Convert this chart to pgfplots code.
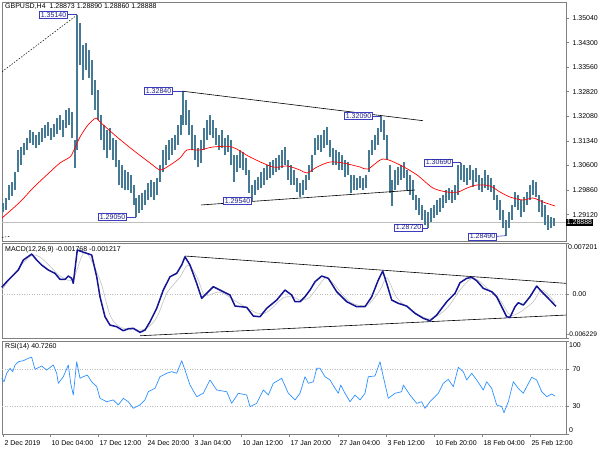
\documentclass[border=0pt]{standalone}
\usepackage{fontspec}
\setmainfont{Liberation Sans}
\usepackage{pgfplots}
\pgfplotsset{compat=1.18}
\definecolor{candle}{RGB}{70,122,148}
\definecolor{macdblue}{RGB}{20,20,150}
\definecolor{siggray}{RGB}{195,195,195}
\definecolor{rsiblue}{RGB}{45,145,255}
\definecolor{lblblue}{RGB}{60,60,190}
\definecolor{lbltext}{RGB}{30,30,140}
\definecolor{framegray}{RGB}{128,128,128}
\definecolor{wm}{RGB}{200,200,200}
\definecolor{levelgray}{RGB}{190,190,190}
\pgfplotsset{
  panel/.style={scale only axis, width=564pt, xmin=2, xmax=566, clip=false,
    scaled x ticks=false, scaled y ticks=false,
    axis line style={framegray, line width=0.8pt},
    tick style={framegray, line width=0.6pt}, tick align=outside, major tick length=3pt,
    ytick pos=right, yticklabel pos=right, xtick pos=bottom,
    ticklabel style={font=\fontsize{7}{8}\selectfont, text=black},
    axis background/.style={fill=white}},
}
\tikzset{lbl/.style={draw=lblblue, fill=white, text=lbltext, line width=0.6pt, inner xsep=1.5pt, inner ysep=1pt, font=\fontsize{7}{8}\selectfont},
  lblc/.style={lblblue, line width=0.6pt}}
\begin{document}
\begin{tikzpicture}
\useasboundingbox (0,0) rectangle (600pt,450pt);
\node[anchor=center, text=wm, font=\fontsize{17.6}{20}\selectfont] at (381pt,385pt) {ActionForex.com};
% ---------------- main price panel
\begin{axis}[panel, at={(2pt,448pt)}, anchor=north west, height=239pt,
  ymin=1.28329, ymax=1.35523, xtick=\empty,
  ytick={1.3504,1.343,1.3356,1.3282,1.3208,1.3134,1.306,1.2986,1.2912},
  yticklabels={1.35040,1.34300,1.33560,1.32820,1.32080,1.31340,1.30600,1.29860,1.29120}]
\addplot[levelgray, line width=0.6pt] coordinates {(2,1.28888) (566,1.28888)};
\addplot[black, line width=0.5pt, dash pattern=on 1.5pt off 1.5pt] coordinates {(2,1.33425) (77,1.35132)};
\addplot[black, line width=0.5pt, dash pattern=on 1.5pt off 1.5pt] coordinates {(2,1.28440) (10,1.28470)};
\addplot[only marks, mark=*, mark size=0pt, mark options={draw=none, fill=none},
  error bars/.cd, y dir=plus, y explicit, error mark=none,
  error bar style={line width=1.45pt, candle}]
  table[x=x, y=lo, y error expr=\thisrow{hi}-\thisrow{lo}] {
x lo hi
3 1.29202 1.29473
6 1.29262 1.29623
9 1.29563 1.30015
12 1.29683 1.30105
15 1.29864 1.30406
18 1.30406 1.31068
21 1.30617 1.31158
24 1.30918 1.31279
27 1.31068 1.31429
30 1.31279 1.31670
33 1.31219 1.31610
36 1.31128 1.31520
39 1.31219 1.31610
42 1.31309 1.31730
45 1.31429 1.31821
48 1.31490 1.31911
51 1.31369 1.31730
54 1.31459 1.31851
57 1.31550 1.32031
60 1.31670 1.32122
63 1.31459 1.31971
66 1.31730 1.32272
69 1.31821 1.32332
72 1.31429 1.32212
75 1.30526 1.31369
77 1.31068 1.35140
80 1.33627 1.34891
83 1.33175 1.34229
86 1.33476 1.34289
89 1.33235 1.34078
92 1.32724 1.33777
95 1.32272 1.33175
98 1.31971 1.32874
101 1.31369 1.32122
104 1.31068 1.31821
107 1.30827 1.31670
110 1.31068 1.31730
113 1.30767 1.31429
116 1.30556 1.31369
119 1.30015 1.30767
122 1.29924 1.30617
125 1.29864 1.30466
128 1.29864 1.30406
131 1.29774 1.30316
134 1.29413 1.30015
136 1.29050 1.29623
139 1.29172 1.29714
142 1.29262 1.29774
145 1.29413 1.29864
148 1.29563 1.30075
151 1.29653 1.30165
154 1.29563 1.30105
157 1.29714 1.30225
160 1.30105 1.30617
163 1.30406 1.31068
166 1.30617 1.31219
169 1.30767 1.31369
172 1.30918 1.31429
175 1.31068 1.31520
178 1.31219 1.31821
181 1.31520 1.32122
183 1.31821 1.32840
186 1.31821 1.32573
189 1.31520 1.32272
192 1.31068 1.31821
195 1.30767 1.31520
198 1.30556 1.31128
201 1.30677 1.31369
204 1.31068 1.31730
207 1.31369 1.31971
210 1.31520 1.32122
213 1.31429 1.31971
216 1.31219 1.31730
219 1.31068 1.31520
222 1.31128 1.31670
225 1.30918 1.31429
228 1.31008 1.31520
231 1.30617 1.31369
234 1.30105 1.30918
237 1.30406 1.30918
240 1.30526 1.31068
243 1.30466 1.31008
246 1.30316 1.30827
249 1.29774 1.30466
252 1.29540 1.30015
255 1.29714 1.30165
258 1.29864 1.30255
261 1.29924 1.30406
264 1.30015 1.30526
267 1.30165 1.30617
270 1.30225 1.30707
273 1.30316 1.30767
276 1.30406 1.30827
279 1.30466 1.30918
282 1.30526 1.31068
285 1.30617 1.31158
288 1.30165 1.30767
291 1.30015 1.30617
294 1.30015 1.30466
297 1.29804 1.30225
300 1.29653 1.30075
303 1.29714 1.30165
306 1.29864 1.30316
309 1.30165 1.30617
312 1.30406 1.30918
315 1.30918 1.31429
318 1.31068 1.31520
321 1.31008 1.31520
324 1.31128 1.31670
327 1.31219 1.31760
330 1.30857 1.31369
333 1.30617 1.31128
336 1.30617 1.31068
339 1.30466 1.31008
342 1.30466 1.30918
345 1.30255 1.30767
348 1.30316 1.30707
351 1.29774 1.30316
354 1.29864 1.30316
357 1.29864 1.30225
360 1.29924 1.30285
363 1.29864 1.30225
366 1.29924 1.30316
369 1.30406 1.31068
372 1.30918 1.31369
375 1.31068 1.31520
378 1.31219 1.31730
381 1.31610 1.32090
384 1.31369 1.31971
387 1.30767 1.31520
390 1.29774 1.30617
392 1.29382 1.30165
395 1.29864 1.30466
398 1.30015 1.30556
401 1.30165 1.30617
404 1.30225 1.30707
407 1.29864 1.30466
410 1.29714 1.30316
413 1.29563 1.30165
416 1.29262 1.29714
419 1.29112 1.29623
422 1.28961 1.29413
425 1.28811 1.29262
428 1.28720 1.29202
431 1.28901 1.29322
434 1.29021 1.29413
437 1.29112 1.29563
440 1.29202 1.29623
443 1.29322 1.29714
446 1.29473 1.29864
449 1.29563 1.29924
452 1.29473 1.29864
455 1.29563 1.30015
458 1.29714 1.30617
461 1.30165 1.30690
464 1.30105 1.30617
467 1.30015 1.30526
470 1.30165 1.30617
473 1.29954 1.30466
476 1.30105 1.30526
479 1.29864 1.30316
482 1.29804 1.30225
485 1.29924 1.30466
488 1.29864 1.30316
491 1.29804 1.30225
494 1.29563 1.30015
497 1.29262 1.29714
500 1.28961 1.29563
503 1.28720 1.29262
506 1.28490 1.28961
509 1.28720 1.29202
512 1.28961 1.29413
515 1.29352 1.29804
518 1.29262 1.29714
521 1.29051 1.29563
524 1.29202 1.29653
527 1.29413 1.29804
530 1.29563 1.30015
533 1.29714 1.30165
536 1.29653 1.30105
539 1.29202 1.29714
542 1.29051 1.29563
545 1.28811 1.29413
548 1.28660 1.29112
551 1.28720 1.29051
554 1.28780 1.29021
};
\addplot[red, line width=0.7pt, smooth] coordinates {
(2,1.29021) (20,1.29503) (33,1.29924) (50,1.30406) (60,1.30677) (70,1.30857) (73,1.31008)
(80,1.31459) (88,1.31821) (96,1.32031) (100,1.31911) (117,1.31459) (133,1.31068) (150,1.30677)
(160,1.30466) (167,1.30556) (180,1.30827) (187,1.31068) (200,1.31068) (213,1.31158) (232,1.31158)
(250,1.30857) (273,1.30556) (287,1.30587) (300,1.30466) (307,1.30376) (317,1.30556) (330,1.30707)
(343,1.30677) (360,1.30556) (368,1.30496) (383,1.30797) (400,1.30617) (417,1.30316) (433,1.29924)
(447,1.29804) (458,1.29804) (467,1.29924) (477,1.30015) (490,1.29985) (500,1.29804) (510,1.29653)
(523,1.29563) (533,1.29623) (543,1.29503) (555,1.29382)};
\addplot[black, line width=0.6pt] coordinates {(182,1.32840) (423,1.31950)};
\addplot[black, line width=0.6pt] coordinates {(201,1.29413) (415,1.29864)};
% price labels
\draw[lblc] (axis cs:68,1.35140) -- (axis cs:77,1.35140);
\node[lbl, anchor=east] at (axis cs:68,1.35140) {1.35140};
\draw[lblc] (axis cs:173,1.32840) -- (axis cs:183,1.32840);
\node[lbl, anchor=east] at (axis cs:173,1.32840) {1.32840};
\draw[lblc] (axis cs:373,1.32090) -- (axis cs:381,1.32090);
\node[lbl, anchor=east] at (axis cs:373,1.32090) {1.32090};
\node[lbl, anchor=east] at (axis cs:252,1.29540) {1.29540};
\draw[lblc] (axis cs:127,1.29050) -- (axis cs:136,1.29050);
\node[lbl, anchor=east] at (axis cs:127,1.29050) {1.29050};
\draw[lblc] (axis cs:453,1.30690) -- (axis cs:461,1.30690);
\node[lbl, anchor=east] at (axis cs:453,1.30690) {1.30690};
\draw[lblc] (axis cs:423,1.28720) -- (axis cs:428,1.28720);
\node[lbl, anchor=east] at (axis cs:423,1.28740) {1.28720};
\draw[lblc] (axis cs:497,1.28470) -- (axis cs:506,1.28490);
\node[lbl, anchor=east] at (axis cs:497,1.28464) {1.28490};
\node[fill=black, text=white, anchor=west, inner xsep=0.6pt, inner ysep=1pt, font=\fontsize{7}{8}\selectfont] at (axis cs:566,1.28888) {1.28888};
\end{axis}
\node[anchor=west, font=\fontsize{7}{8}\selectfont, inner sep=0pt] at (5pt,443pt) {GBPUSD,H4\ \ 1.28873 1.28890 1.28860 1.28888};
% ---------------- MACD panel
\begin{axis}[panel, at={(2pt,207pt)}, anchor=north west, height=95pt,
  ymin=-0.006229, ymax=0.007201, xtick=\empty,
  ytick={-0.006229,0,0.007201}, yticklabels={,0.00,}]
\node[anchor=north west, font=\fontsize{7}{8}\selectfont, inner sep=0pt] at (rel axis cs:0,1) [xshift=3pt, yshift=-3pt] {MACD(12,26,9) -0.001768 -0.001217};
\addplot[levelgray, line width=0.5pt, dash pattern=on 1pt off 1.5pt] coordinates {(2,0) (566,0)};
\addplot[black, line width=0.6pt] coordinates {(185,0.005359) (566,0.001499)};
\addplot[black, line width=0.6pt] coordinates {(140,-0.005911) (566,-0.002984)};
\addplot[siggray, line width=0.6pt, smooth] coordinates {
(1.7,0.000509) (33,0.005500) (60,0.002531) (73,0.002107) (85,0.005925) (100,0.001965) (110,-0.002984)
(120,-0.004680) (137,-0.005105) (147,-0.004822) (157,-0.003266) (167,0.000127) (180,0.002390)
(188,0.004086) (197,0.002390) (205,-0.000156) (220,0.000269) (237,-0.001145) (257,-0.002701)
(267,-0.002559) (283,-0.000580) (293,-0.000438) (300,-0.000863) (310,-0.000438) (325,0.002248)
(333,0.001541) (350,-0.001145) (367,-0.001570) (380,0.000551) (387,0.002248) (397,-0.000580)
(413,-0.002418) (430,-0.003549) (447,-0.001994) (460,0.000551) (473,0.002248) (487,0.000834)
(500,-0.000863) (510,-0.002984) (520,-0.002559) (533,-0.001145) (542,0.000551) (555,-0.001217)};
\addplot[macdblue, line width=1.5pt, line join=round] coordinates {
(1.7,0.000933) (6.7,0.001725) (13.3,0.002672) (18.3,0.003379) (23.3,0.004793) (31.7,0.005642)
(36.7,0.004793) (41.7,0.004086) (48.3,0.003379) (55,0.002913) (60,0.002064) (65,0.002064)
(68.3,0.002531) (71.7,0.002206) (73.3,0.001499) (77.3,0.006207) (80,0.006066) (86.7,0.005741)
(91.7,0.005500) (96.7,0.002432) (100,-0.000396) (105,-0.003224) (110,-0.004398) (116.7,-0.004638)
(123.3,-0.005204) (128.3,-0.004921) (133.3,-0.004864) (140,-0.005430) (145,-0.005105) (150,-0.003931)
(156.7,-0.002036) (163.3,0.000551) (170,0.002432) (176.7,0.002913) (181.7,0.004086) (185,0.005260)
(190,0.004086) (196.7,0.001499) (201.7,-0.000622) (206.7,0.000085) (213.3,0.001018) (220,0.000551)
(230,-0.000156) (235,-0.001711) (246.7,-0.001895) (253.3,-0.003125) (260,-0.003224) (266.7,-0.002036)
(276.7,-0.000863) (285,0.000551) (291.7,-0.000156) (295,-0.001103) (300,-0.001103) (305,-0.000396)
(310,0.000551) (315,0.001725) (321.7,0.002531) (328.3,0.002206) (336.7,0.000311) (346.7,-0.001103)
(356.7,-0.001810) (365,-0.001810) (371.7,-0.000396) (378.3,0.001965) (382.7,0.003238) (386.7,0.001499)
(391.7,-0.000863) (398.3,-0.001329) (406.7,-0.001711) (415,-0.002743) (423.3,-0.003450) (430,-0.003790)
(436.7,-0.002984) (446.7,-0.001103) (455,0.000085) (460,0.001584) (466.7,0.002206) (471.7,0.002347)
(476.7,0.001866) (483.3,0.000792) (491.7,0.000311) (496.7,-0.000396) (501.7,-0.001810) (506.7,-0.003224)
(510,-0.003309) (515,-0.001810) (518.3,-0.001244) (523.3,-0.001570) (530,-0.000396) (536.7,0.001117)
(541.7,0.000311) (548.3,-0.000622) (556,-0.001768)};
\node[anchor=north west, font=\fontsize{7}{8}\selectfont, inner sep=0pt] at (rel axis cs:1,1) [xshift=2pt, yshift=-1pt] {0.007201};
\node[anchor=south west, font=\fontsize{6.6}{8}\selectfont, inner sep=0pt] at (rel axis cs:1,0) [xshift=1pt, yshift=1pt] {-0.006229};
\end{axis}
% ---------------- RSI panel
\begin{axis}[panel, at={(2pt,109pt)}, anchor=north west, height=93pt,
  ymin=0, ymax=100, ytick={0,30,70,100}, yticklabels={,30,70,},
  xtick={3,50,98,146,193,241,289,338,386,434,482,530},
  xticklabels={2 Dec 2019,10 Dec 04:00,17 Dec 12:00,24 Dec 20:00,3 Jan 04:00,10 Jan 12:00,17 Jan 20:00,27 Jan 04:00,3 Feb 12:00,10 Feb 20:00,18 Feb 04:00,25 Feb 12:00},
  xticklabel style={anchor=north west, xshift=-2pt}]
\addplot[levelgray, line width=0.5pt, dash pattern=on 1pt off 1.5pt] coordinates {(2,70) (566,70)};
\addplot[levelgray, line width=0.5pt, dash pattern=on 1pt off 1.5pt] coordinates {(2,30) (566,30)};
\addplot[rsiblue, line width=0.7pt, line join=round] coordinates {
(1.7,59.9) (4,56.2) (6.7,65.3) (10,70.6) (12.7,67.0) (15,74.2) (18.3,77.7) (23.3,78.8) (28.3,81.4)
(31.7,82.5) (35,69.6) (41.7,73.1) (46.7,68.8) (53.3,74.2) (56.7,65.3) (58.3,54.5) (63.3,61.6)
(68.3,74.2) (70.7,54.5) (73.3,41.9) (76.7,77.7) (80,59.9) (83.3,61.6) (87.3,63.4) (91.7,56.2)
(96.7,50.9) (100,38.4) (106.7,34.7) (113.3,36.6) (118.3,31.2) (123.3,38.4) (128.3,34.7) (133.3,27.6)
(140,31.2) (145,36.6) (148.3,45.5) (155,49.1) (160,61.6) (166.7,65.3) (171.7,67.0) (176.7,65.3)
(181.7,78.8) (185,68.8) (190,52.7) (196.7,40.1) (203.3,43.8) (210,58.1) (216.7,47.3) (226.7,45.5)
(231.7,33.0) (238.3,43.8) (246.7,41.9) (250,29.4) (256.7,33.0) (263.3,47.3) (268.3,41.9) (273.3,54.5)
(281.7,59.9) (288.3,43.8) (295,36.6) (300,43.8) (305,61.6) (308.3,54.5) (313.3,56.2) (316.7,70.6)
(320,70.6) (325,61.6) (330,58.1) (335,49.1) (338.3,43.8) (340.7,52.7) (345,43.8) (350,34.7)
(355,41.9) (360,36.6) (365,43.8) (368.3,61.6) (375,62.4) (380,77.7) (383.3,61.6) (388.3,38.4)
(395,43.8) (401.7,45.5) (403.3,52.7) (410,41.9) (416.7,33.0) (421.7,34.7) (425,27.6) (430,34.7)
(433.3,38.4) (438.3,43.8) (443.3,54.5) (448.3,58.8) (453.3,50.9) (458.3,71.7) (463.3,67.0) (466.7,58.1)
(471.7,65.3) (476.7,58.1) (483.3,47.3) (486.7,56.2) (491.7,49.1) (496.7,31.2) (501.7,29.4) (504,22.9)
(508.3,34.7) (513.3,56.2) (518.3,49.1) (523.3,43.8) (526.7,50.9) (531.7,61.0) (536.7,58.1) (541.7,45.5)
(546.7,40.1) (551.7,43.0) (555,40.7)};
\node[anchor=north west, font=\fontsize{7}{8}\selectfont, inner sep=0pt] at (rel axis cs:0,1) [xshift=3pt, yshift=-2pt] {RSI(14) 40.7260};
\node[anchor=north west, font=\fontsize{7}{8}\selectfont, inner sep=0pt] at (rel axis cs:1,1) [xshift=3pt, yshift=-1pt] {100};
\node[anchor=south west, font=\fontsize{7}{8}\selectfont, inner sep=0pt] at (rel axis cs:1,0) [xshift=3pt, yshift=1pt] {0};
\end{axis}
\end{tikzpicture}
\end{document}
